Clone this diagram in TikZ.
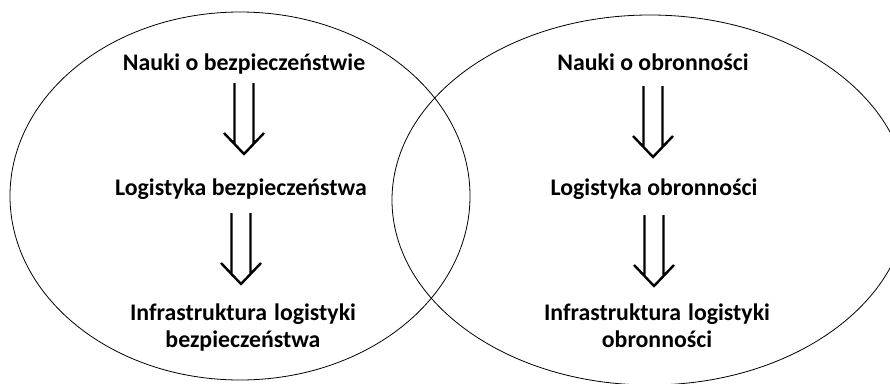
\documentclass[tikz,border=0pt]{standalone}
\usepackage{fontspec}
\setmainfont{Carlito}[BoldFont=Carlito Bold]
\usetikzlibrary{calc}
\tikzset{
  txt/.style={font=\bfseries\fontsize{23.8}{27}\selectfont, inner sep=0pt, anchor=base, align=center},
  venn/.style={draw, line width=0.8pt},
  % hollow downward double arrow: two shafts closed by an open chevron
  dblarrow/.style={line width=2.4pt, line cap=butt, line join=miter, to path={
    let \p1=(\tikztostart.base) in
    (\x1-9.5pt,\y1-#1) -- (\x1-9.5pt,\y1-#1-60.5pt)
    (\x1+9.5pt,\y1-#1) -- (\x1+9.5pt,\y1-#1-60.5pt)
    (\x1-20pt,\y1-#1-50pt) -- (\x1,\y1-#1-71pt) -- (\x1+20pt,\y1-#1-50pt)}}
}
\begin{document}
\begin{tikzpicture}[x=1pt,y=-1pt]
  \useasboundingbox (0,0) rectangle (890,383);
  \clip (0,0) rectangle (890,383);

  % the two overlapping fields
  \draw[venn] (240,196) ellipse [x radius=230pt, y radius=184pt];
  \draw[venn] (650,200) ellipse [x radius=258pt, y radius=185pt];

  % security sciences chain
  \node[txt] (b1) at (244,70) {Nauki o bezpieczeństwie};
  \node[txt] (b2) at (241,195) {Logistyka bezpieczeństwa};
  \node[txt] (b3) at (243,347) {Infrastruktura\hspace{0.3em}logistyki\\bezpieczeństwa};

  % defence sciences chain
  \node[txt] (d1) at (653,70) {Nauki o obronności};
  \node[txt] (d2) at (654,195) {Logistyka obronności};
  \node[txt] (d3) at (657,347) {Infrastruktura\hspace{0.3em}logistyki\\obronności};

  \draw[dblarrow=13pt] (b1) to (b2);
  \draw[dblarrow=18pt] (b2) to (b3);
  \draw[dblarrow=16pt] (d1) to (d2);
  \draw[dblarrow=20pt] (d2) to (d3);
\end{tikzpicture}
\end{document}
